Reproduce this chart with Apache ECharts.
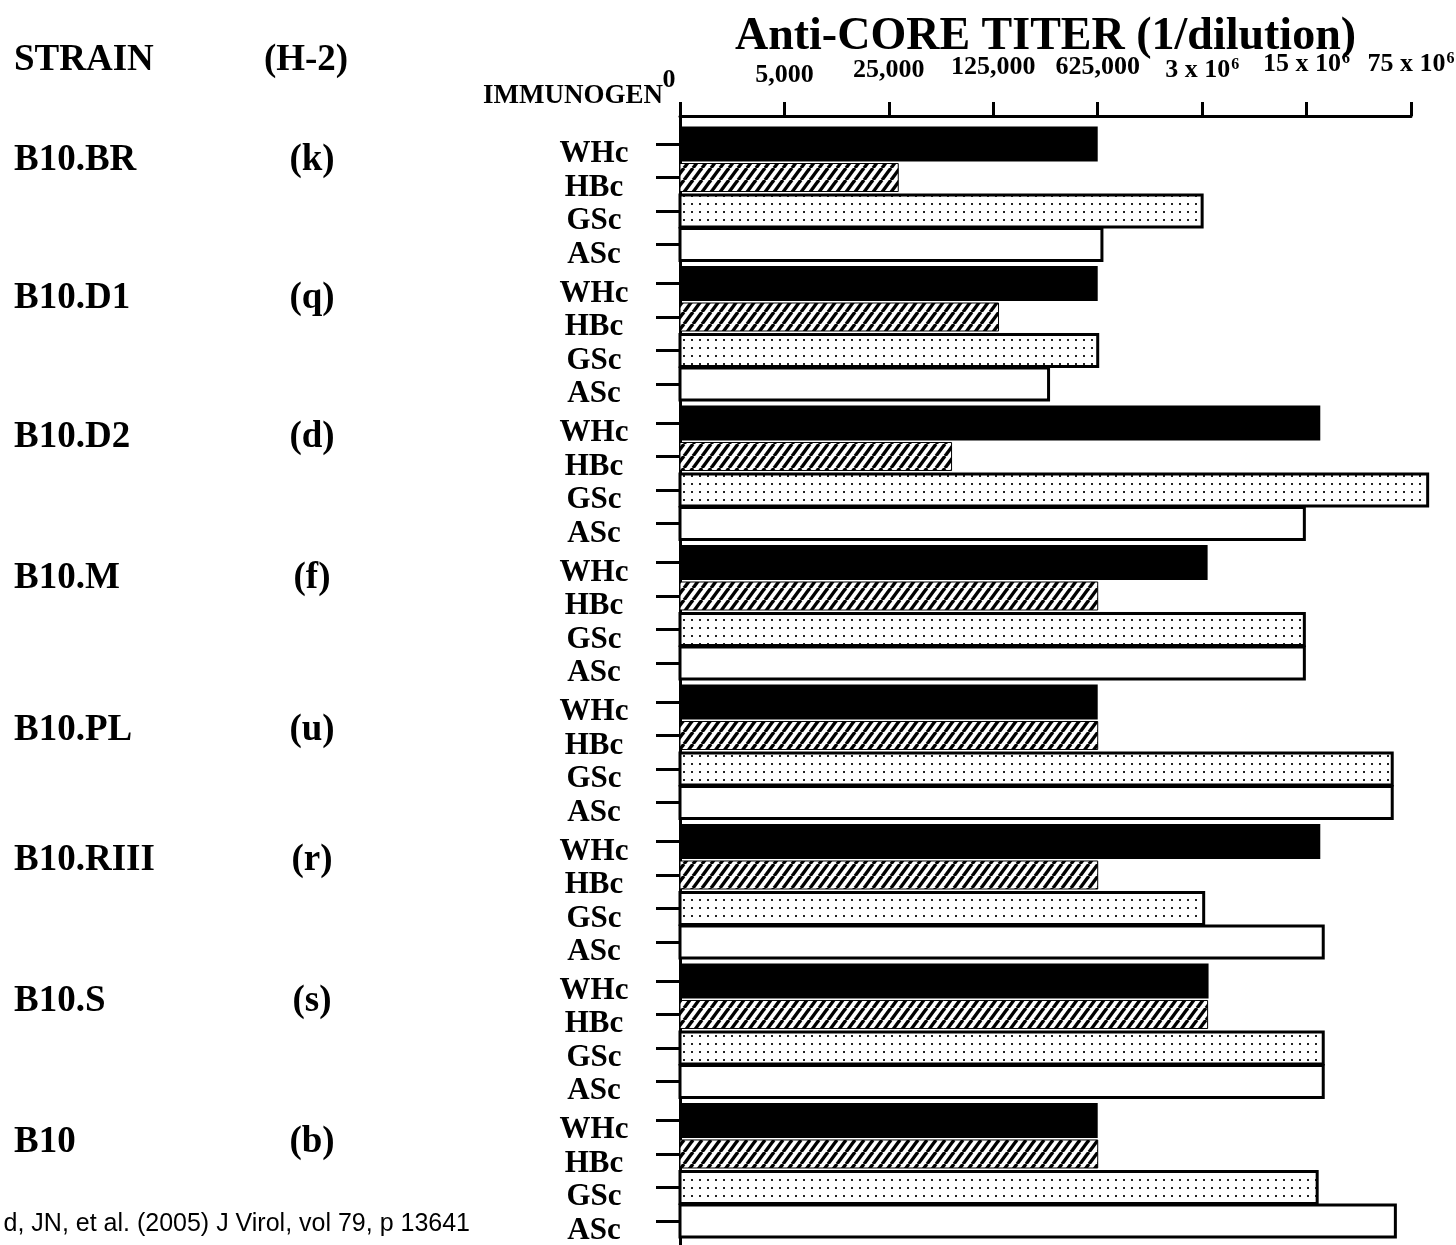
<!DOCTYPE html>
<html><head><meta charset="utf-8">
<script src="https://cdn.jsdelivr.net/npm/echarts@6/dist/echarts.min.js"></script>
<style>html,body{margin:0;padding:0;background:#fff}#c{width:1456px;height:1245px}</style>
</head><body><div id="c"></div>
<script>
// ---------------- data ----------------
const strains = ['B10.BR', 'B10.D1', 'B10.D2', 'B10.M', 'B10.PL', 'B10.RIII', 'B10.S', 'B10'];
const haplotypes = ['(k)', '(q)', '(d)', '(f)', '(u)', '(r)', '(s)', '(b)'];
const immunogens = ['WHc', 'HBc', 'GSc', 'ASc'];
const tickText = ['0', '5,000', '25,000', '125,000', '625,000', '3 x 10', '15 x 10', '75 x 10'];
const tickSup = ['', '', '', '', '', '6', '6', '6'];
// anti-core titers (1/dilution), one value per strain
const whcTiter = [625000, 625000, 19300000, 3400000, 625000, 19300000, 3450000, 625000];
const hbcTiter = [28900, 135500, 65700, 625000, 625000, 625000, 3400000, 625000];
const gscTiter = [3125000, 625000, 101000000, 15100000, 58500000, 3200000, 20200000, 18400000];
const ascTiter = [667000, 293000, 15100000, 15100000, 58500000, 20200000, 20200000, 61400000];
const titers = [whcTiter, hbcTiter, gscTiter, ascTiter];

// ---------------- helpers ----------------
const F = '"Liberation Serif", "Times New Roman", serif';
// axis is in 5-fold dilution steps: 0 -> "0", 1 -> 5,000, 2 -> 25,000 ...
function step(t) { return t <= 0 ? 0 : 1 + Math.log(t / 5000) / Math.log(5); }
const GROUP = 4.164;           // rows per strain block (incl. gap)
const pos = (g, r) => g * GROUP + r;
const strainDy = [16, 15, 14, 16, 28, 19, 20, 22];

function hatch() {
  const c = document.createElement('canvas'); c.width = 9; c.height = 12;
  const x = c.getContext('2d'); x.fillStyle = '#fff'; x.fillRect(0, 0, 9, 12);
  x.strokeStyle = '#000'; x.lineWidth = 3.4;
  for (const d of [-9, 0, 9]) { x.beginPath(); x.moveTo(d, 12); x.lineTo(d + 9, 0); x.stroke(); }
  return c;
}
function dots() {
  const c = document.createElement('canvas'); c.width = 8; c.height = 8;
  const x = c.getContext('2d'); x.fillStyle = '#fff'; x.fillRect(0, 0, 8, 8);
  x.fillStyle = '#222'; x.fillRect(3, 3, 2, 2);
  return c;
}
const styles = [
  { fill: '#000', stroke: null, lineWidth: 0, h: 35 },
  { fill: { image: hatch(), repeat: 'repeat' }, stroke: '#000', lineWidth: 1, h: 28 },
  { fill: { image: dots(), repeat: 'repeat' }, stroke: '#000', lineWidth: 3, h: 32 },
  { fill: '#fff', stroke: '#000', lineWidth: 3, h: 32 }
];

const tickPos = [], tickLab = {};
strains.forEach((s, g) => immunogens.forEach((im, r) => {
  const p = pos(g, r); tickPos.push(p); tickLab[p.toFixed(3)] = im;
}));

const pb = [0, 5, 10, 13, 13, 10, 16, 16];
const rich = {};
tickText.forEach((t, i) => {
  rich['b' + i] = { fontFamily: F, fontWeight: 'bold', fontSize: 26, color: '#000',
    padding: [0, i === 0 ? 22 : 0, pb[i], 0] };
  rich['s' + i] = { fontFamily: F, fontWeight: 'bold', fontSize: 16, color: '#000', verticalAlign: 'top', padding: [0, 0, 0, 1] };
});

const series = immunogens.map((im, i) => ({
  type: 'custom', name: im, clip: false,
  data: strains.map((s, g) => [step(titers[i][g]), pos(g, i)]),
  renderItem: (params, api) => {
    const a = api.coord([0, api.value(1)]);
    const b = api.coord([api.value(0), api.value(1)]);
    const st = styles[i];
    return { type: 'rect',
      shape: { x: a[0], y: a[1] - st.h / 2, width: b[0] - a[0], height: st.h },
      style: { fill: st.fill, stroke: st.stroke, lineWidth: st.lineWidth } };
  }
}));

const chart = echarts.init(document.getElementById('c'), null, { renderer: 'canvas' });
const option = {
  backgroundColor: '#fff',
  animation: false,
  grid: { left: 680, right: 45, top: 116, bottom: 0, containLabel: false, outerBoundsMode: 'none' },
  xAxis: {
    type: 'value', position: 'top', min: 0, max: 7, interval: 1,
    name: 'Anti-CORE TITER (1/dilution)', nameLocation: 'middle', nameGap: 56, nameMoveOverlap: false,
    nameTextStyle: { fontFamily: F, fontWeight: 'bold', fontSize: 46, color: '#000' },
    axisLine: { show: true, onZero: false, lineStyle: { color: '#000', width: 3 } },
    axisTick: { show: true, length: 14, lineStyle: { color: '#000', width: 3 } },
    splitLine: { show: false },
    axisLabel: {
      margin: 23, rich: rich,
      formatter: (v) => { const i = Math.round(v); return '{b' + i + '|' + tickText[i] + '}' + (tickSup[i] ? '{s' + i + '|' + tickSup[i] + '}' : ''); }
    }
  },
  yAxis: {
    type: 'value', inverse: true, min: -0.836, max: 32.865,
    axisLine: { show: true, onZero: false, lineStyle: { color: '#000', width: 3 } },
    axisTick: { show: true, customValues: tickPos, length: 24, lineStyle: { color: '#000', width: 3 } },
    splitLine: { show: false },
    axisLabel: {
      customValues: tickPos, margin: 86, align: 'center', verticalAlign: 'top', lineHeight: 20,
      fontFamily: F, fontWeight: 'bold', fontSize: 31, color: '#000',
      formatter: (v) => tickLab[Number(v).toFixed(3)] || ''
    }
  },
  series: series
};
chart.setOption(option);

const g = [
  { type: 'text', left: 14, top: 42, style: { text: 'STRAIN', font: 'bold 37px ' + F, fill: '#000' } },
  { type: 'text', x: 306, y: 60, style: { text: '(H-2)', font: 'bold 37px ' + F, fill: '#000', align: 'center', verticalAlign: 'middle' } },
  { type: 'text', x: 483, y: 96, style: { text: 'IMMUNOGEN', font: 'bold 27px ' + F, fill: '#000', align: 'left', verticalAlign: 'middle' } },
  { type: 'text', x: 470, y: 1224, style: { text: 'd, JN, et al. (2005) J Virol, vol 79, p 13641', font: '25px "Liberation Sans", Arial, sans-serif', fill: '#000', align: 'right', verticalAlign: 'middle' } }
];
strains.forEach((s, i) => {
  const y = chart.convertToPixel({ yAxisIndex: 0 }, pos(i, 0)) + strainDy[i];
  g.push({ type: 'text', x: 14, y: y, style: { text: s, font: 'bold 37px ' + F, fill: '#000', align: 'left', verticalAlign: 'middle' } });
  g.push({ type: 'text', x: 312, y: y, style: { text: haplotypes[i], font: 'bold 37px ' + F, fill: '#000', align: 'center', verticalAlign: 'middle' } });
});
chart.setOption({ graphic: g });
</script></body></html>
